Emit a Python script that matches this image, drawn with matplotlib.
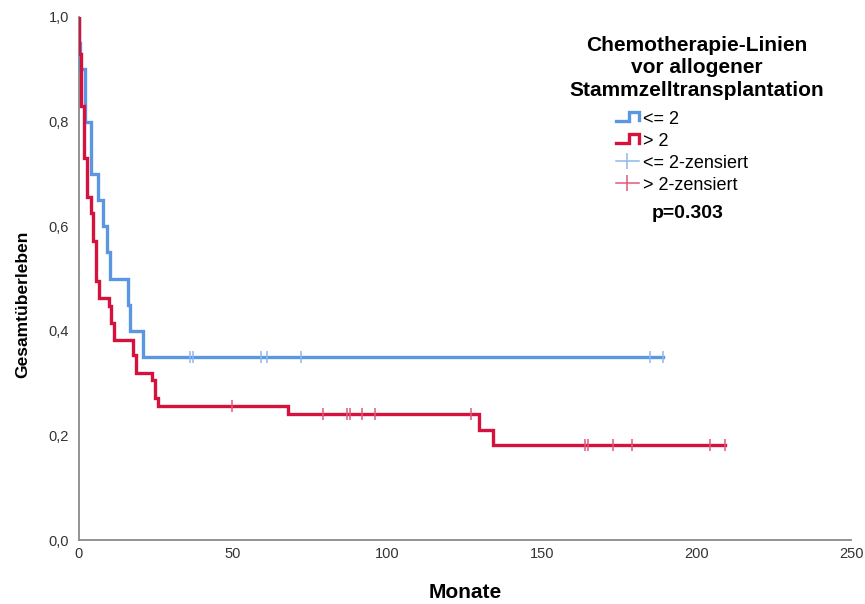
import numpy as np
import matplotlib
matplotlib.use("Agg")
import matplotlib.pyplot as plt
from matplotlib.lines import Line2D
from matplotlib.legend_handler import HandlerBase

plt.rcParams['font.family'] = ['Liberation Sans', 'DejaVu Sans']

# ---- data ----
# group "<= 2": step times (months) and survival after each step
blue_times = [0.3, 0.6, 2.0, 4.1, 6.2, 7.8, 9.2, 10.2, 16.1, 16.7, 21.0]
blue_surv = [0.95, 0.90, 0.80, 0.70, 0.65, 0.60, 0.55, 0.50, 0.45, 0.40, 0.35]
blue_censored = [36.1, 36.9, 59.0, 60.9, 72.0, 185.1, 189.2]

# group "> 2"
red_times = [0.0, 0.9, 1.9, 2.8, 3.9, 4.7, 5.6, 6.6, 10.0, 10.6, 11.5,
             17.6, 18.7, 23.8, 24.9, 25.8, 67.8, 129.7, 134.2]
red_surv = [0.93, 0.83, 0.73, 0.655, 0.625, 0.572, 0.495, 0.463, 0.447, 0.415, 0.383,
            0.354, 0.320, 0.305, 0.272, 0.256, 0.240, 0.210, 0.181]
red_censored = [49.8, 79.0, 87.0, 87.9, 91.9, 95.8, 127.0, 164.0, 164.8,
                173.0, 179.1, 204.3, 209.1]

group_labels = ["<= 2", "> 2"]
censor_labels = ["<= 2-zensiert", "> 2-zensiert"]
legend_title = "Chemotherapie-Linien\nvor allogener\nStammzelltransplantation"
p_text = "p=0.303"
x_ticks = [0, 50, 100, 150, 200, 250]
y_ticks = [0.0, 0.2, 0.4, 0.6, 0.8, 1.0]
y_ticklabels = ["0,0", "0,2", "0,4", "0,6", "0,8", "1,0"]

BLUE = "#5b97e0"
RED = "#d4123d"
BLUE_L = "#8fb8ec"
RED_L = "#e0587a"

W, H = 865, 604
fig = plt.figure(figsize=(W / 100, H / 100), dpi=100)
ax = fig.add_axes([78.5 / W, 1 - 540 / H, (851 - 78.5) / W, (540 - 17) / H])


def km_curve(times, surv, censored):
    end = max(censored) if censored else times[-1]
    xs = [0.0] + list(times) + [end]
    ys = [1.0] + list(surv) + [surv[-1]]
    return np.array(xs), np.array(ys)


def surv_at(times, surv, t):
    idx = np.searchsorted(np.array(times), t, side='right') - 1
    return 1.0 if idx < 0 else surv[idx]


for times, surv, cens, col, lcol in [(blue_times, blue_surv, blue_censored, BLUE, BLUE_L),
                                     (red_times, red_surv, red_censored, RED, RED_L)]:
    xs, ys = km_curve(times, surv, cens)
    ax.step(xs, ys, where='post', color=col, lw=2.4, solid_joinstyle='miter', zorder=3)
    cy = [surv_at(times, surv, t) for t in cens]
    ax.plot(cens, cy, linestyle='none', marker='|', markersize=9, markeredgewidth=1.1,
            color=lcol, zorder=4)

ax.set_xlim(0, 250)
ax.set_ylim(0, 1.0)
ax.set_xticks(x_ticks)
ax.set_xticklabels([str(v) for v in x_ticks])
ax.set_yticks(y_ticks)
ax.set_yticklabels(y_ticklabels)
ax.tick_params(length=0, labelsize=10.5, labelcolor='#333333')
ax.tick_params(axis='x', pad=5)
ax.tick_params(axis='y', pad=7)
for s in ['top', 'right']:
    ax.spines[s].set_visible(False)
for s in ['left', 'bottom']:
    ax.spines[s].set_color('#8a8a8a')
    ax.spines[s].set_linewidth(1.3)

ax.set_xlabel("Monate", fontsize=15, fontweight='bold', labelpad=16)
ax.set_ylabel("Gesamtüberleben", fontsize=12.5, fontweight='bold')
ax.yaxis.set_label_coords(-0.063, 0.45)


class StepHandler(HandlerBase):
    def create_artists(self, legend, orig_handle, xdescent, ydescent, width, height,
                       fontsize, trans):
        x0 = -xdescent
        y0 = -ydescent
        xs = [x0, x0 + 0.55 * width, x0 + 0.55 * width, x0 + width, x0 + width]
        ys = [y0 + 0.2 * height, y0 + 0.2 * height, y0 + 0.9 * height, y0 + 0.9 * height,
              y0 + 0.25 * height]
        ln = Line2D(xs, ys, color=orig_handle.get_color(), lw=2.4,
                    solid_joinstyle='miter', transform=trans)
        return [ln]


h_blue = Line2D([], [], color=BLUE)
h_red = Line2D([], [], color=RED)
h_bc = Line2D([], [], color=BLUE_L, lw=1.1, marker='|', markersize=12, markeredgewidth=1.1)
h_rc = Line2D([], [], color=RED_L, lw=1.1, marker='|', markersize=12, markeredgewidth=1.1)

leg = fig.legend([h_blue, h_red, h_bc, h_rc], group_labels + censor_labels,
                 loc='upper left', bbox_to_anchor=(603 / W, 1 - 98 / H),
                 frameon=False, fontsize=13, handlelength=1.3, handletextpad=0.2,
                 labelspacing=0.28, borderpad=0.2,
                 handler_map={h_blue: StepHandler(), h_red: StepHandler()})

fig.text(697 / W, 1 - 36 / H, legend_title, ha='center', va='top', fontsize=15,
         fontweight='bold', linespacing=1.22)
fig.text(688 / W, 1 - 214 / H, p_text, ha='center', va='center', fontsize=14,
         fontweight='bold')

fig.savefig("out.png", dpi=100)
